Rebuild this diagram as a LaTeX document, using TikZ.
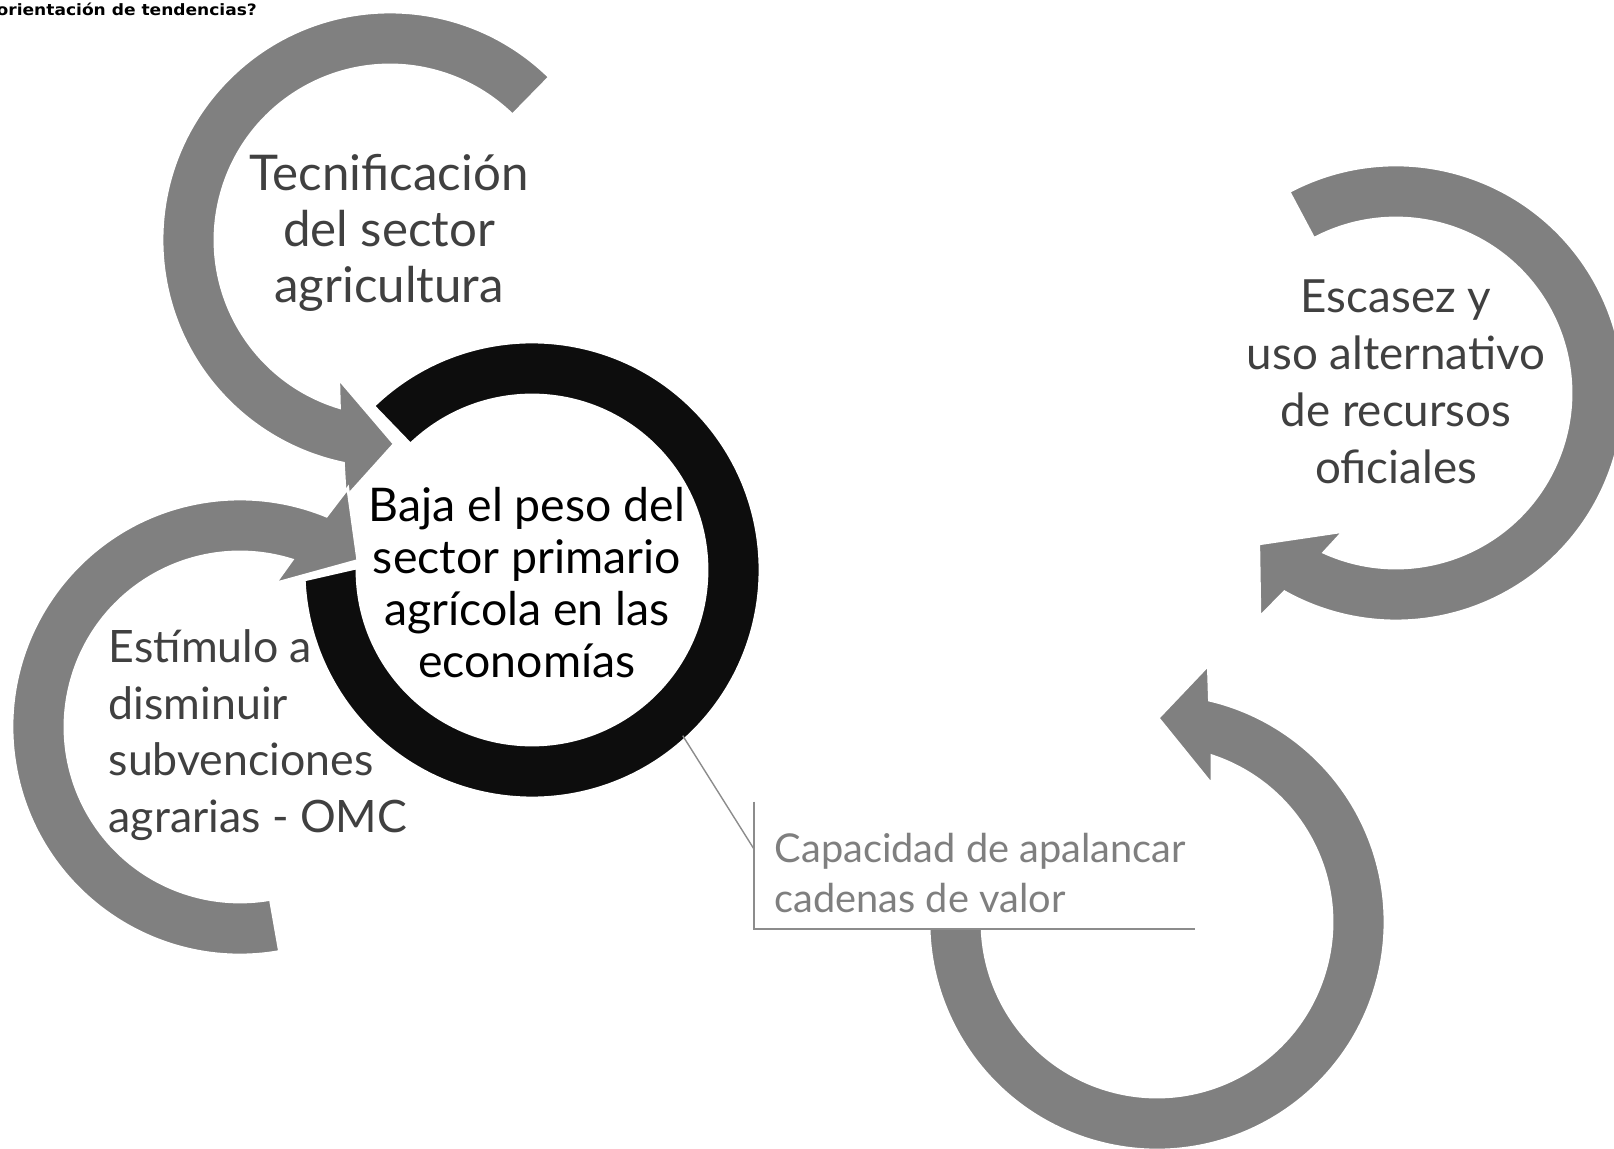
\documentclass[tikz,border=0pt]{standalone}
\usepackage{fontspec}
\usepackage{graphicx}
\setmainfont{Lato}
\newfontfamily\headfont{DejaVu Sans}
\usetikzlibrary{calc}
\definecolor{tendGray}{RGB}{128,128,128}
\definecolor{tendBlack}{RGB}{13,13,13}
\definecolor{tendDarkText}{RGB}{64,64,64}
\definecolor{tendLightText}{RGB}{127,127,127}
\definecolor{tendLine}{RGB}{140,140,140}

\newcommand{\circarrow}[4]{%
  \path[bigarrow] ($(#1)+(#2:228)$) arc[start angle=#2, end angle=#3, radius=228]
    -- ($(#1)+({#3+2*#4}:262)$) -- ($(#1)+({#3+13*#4}:204)$)
    -- ($(#1)+({#3-8.5*#4}:148)$) -- ($(#1)+({#3-5*#4}:175)$)
    arc[start angle={#3-5*#4}, end angle=#2, radius=175] -- cycle;}

\begin{document}
\begin{tikzpicture}[
  x=0.01cm,
  y=-0.01cm,
  bigarrow/.style={fill=tendGray, draw=white, line width=0.8pt},
  ringshape/.style={fill=tendBlack, draw=white, line width=0.8pt},
  looptext/.style={
    text=tendDarkText,
    align=center,
    inner sep=0pt,
    font=\fontsize{14pt}{15.9pt}\selectfont
  },
  centretext/.style={
    text=black,
    align=center,
    inner sep=0pt,
    font=\fontsize{13.2pt}{14.8pt}\selectfont
  },
  calloutbox/.style={fill=white, inner sep=0pt, minimum width=4.39cm, minimum height=1.26cm},
  callouttext/.style={
    text=tendLightText,
    align=left,
    inner sep=0pt,
    font=\fontsize{11.3pt}{14.2pt}\selectfont
  },
  calloutline/.style={draw=tendLine, line width=0.4pt},
  headtext/.style={inner sep=0pt, font=\headfont\bfseries}
]
  \useasboundingbox (0,0) rectangle (1614,1149);

  \coordinate (ring) at (532,570);
  \coordinate (tecCentre) at (390,240);
  \coordinate (estCentre) at (240,727);
  \coordinate (escCentre) at (1396,393);
  \coordinate (capCentre) at (1157,922);

  \path[ringshape] ($(ring)+(226:228)$) arc[start angle=226, end angle=537.5, radius=228]
    -- ($(ring)+(540.7:175)$) arc[start angle=540.7, end angle=226, radius=175] -- cycle;

  \circarrow{tecCentre}{314.4}{101.8}{-1}
  \circarrow{estCentre}{80}{292.3}{1}
  \circarrow{escCentre}{-118}{119.3}{1}
  \circarrow{capCentre}{195}{-76.7}{-1}

  \node[calloutbox, anchor=south west] (capbox) at (754,929) {};

  \node[headtext, anchor=base west] (titulo) at (-4,16) {\resizebox{2.6cm}{0.125cm}{orientación de tendencias?}};
  \node[looptext] (tecnificacion) at (389,233) {Tecnificación\\del sector\\agricultura};
  \node[looptext, font=\fontsize{13pt}{16.2pt}\selectfont] (escasez) at (1396,382) {Escasez y\\uso alternativo\\de recursos\\oficiales};
  \node[looptext, align=left, anchor=west, font=\fontsize{12.7pt}{16.1pt}\selectfont] (estimulo) at (108,735) {Estímulo a\\disminuir\\subvenciones\\agrarias - OMC};
  \node[centretext] (baja) at (527,583) {Baja el peso del\\sector primario\\agrícola en las\\economías};
  \node[callouttext, anchor=west] (capacidad) at (774,873) {Capacidad de apalancar\\cadenas de valor};

  \coordinate (ringtip) at ($(ring)+(47.7:224)$);
  \draw[calloutline] (capbox.north west) -- (capbox.south west) -- (capbox.south east);
  \draw[calloutline] (ringtip) -- ($(capbox.north west)!0.373!(capbox.south west)$);
\end{tikzpicture}
\end{document}
